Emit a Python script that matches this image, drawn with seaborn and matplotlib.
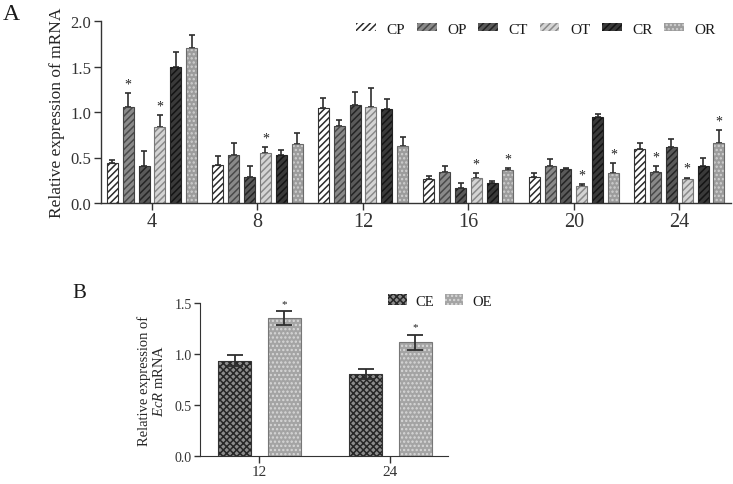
import matplotlib
matplotlib.use("Agg")
import matplotlib.pyplot as plt
from matplotlib.patches import Rectangle
import numpy as np
import pandas as pd
import seaborn as sns

# ---------------- data: panel A ----------------
times = ["4", "8", "12", "16", "20", "24"]
groups = ["CP", "OP", "CT", "OT", "CR", "OR"]
cp = [0.44, 0.42, 1.04, 0.26, 0.29, 0.59]
op = [1.05, 0.53, 0.85, 0.34, 0.41, 0.34]
ct = [0.41, 0.29, 1.08, 0.16, 0.37, 0.61]
ot = [0.84, 0.55, 1.05, 0.27, 0.19, 0.26]
cr = [1.49, 0.53, 1.03, 0.22, 0.94, 0.41]
orr = [1.70, 0.65, 0.63, 0.36, 0.33, 0.66]
cp_err = [0.03, 0.10, 0.11, 0.04, 0.04, 0.07]
op_err = [0.16, 0.13, 0.06, 0.07, 0.07, 0.07]
ct_err = [0.16, 0.12, 0.14, 0.06, 0.01, 0.09]
ot_err = [0.13, 0.06, 0.21, 0.06, 0.02, 0.02]
cr_err = [0.17, 0.05, 0.11, 0.02, 0.04, 0.09]
or_err = [0.15, 0.12, 0.10, 0.02, 0.11, 0.14]
# significance flags (1 = "*")
cp_sig = [0, 0, 0, 0, 0, 0]
op_sig = [1, 0, 0, 0, 0, 1]
ct_sig = [0, 0, 0, 0, 0, 0]
ot_sig = [1, 1, 0, 1, 1, 1]
cr_sig = [0, 0, 0, 0, 0, 0]
or_sig = [0, 0, 0, 1, 1, 1]

# ---------------- data: panel B ----------------
b_times = ["12", "24"]
b_groups = ["CE", "OE"]
ce = [0.935, 0.805]
oe = [1.35, 1.115]
ce_err = [0.055, 0.045]
oe_err = [0.07, 0.075]
ce_sig = [0, 0]
oe_sig = [1, 1]

vals_A = [cp, op, ct, ot, cr, orr]
errs_A = [cp_err, op_err, ct_err, ot_err, cr_err, or_err]
sigs_A = [cp_sig, op_sig, ct_sig, ot_sig, cr_sig, or_sig]
vals_B = [ce, oe]
errs_B = [ce_err, oe_err]
sigs_B = [ce_sig, oe_sig]

dfA = pd.DataFrame([(t, g, v) for g, vs in zip(groups, vals_A) for t, v in zip(times, vs)],
                   columns=["time", "group", "value"])
dfB = pd.DataFrame([(t, g, v) for g, vs in zip(b_groups, vals_B) for t, v in zip(b_times, vs)],
                   columns=["time", "group", "value"])

# styles
fill_A = {"CP": "#ffffff", "OP": "#8a8a8a", "CT": "#5a5a5a", "OT": "#d4d4d4", "CR": "#3a3a3a", "OR": "#9c9c9c"}
hatch_col_A = {"CP": "#2a2a2a", "OP": "#4a4a4a", "CT": "#242424", "OT": "#8a8a8a", "CR": "#141414", "OR": "#d0d0d0"}
hatch_A = {"CP": "/////", "OP": "/////", "CT": "/////", "OT": "/////", "CR": "/////", "OR": "...."}
outline_A = {"CP": "#333333", "OP": "#444444", "CT": "#333333", "OT": "#777777", "CR": "#222222", "OR": "#6a6a6a"}
fill_B = {"CE": "#8c8c8c", "OE": "#a4a4a4"}
hatch_col_B = {"CE": "#262626", "OE": "#d8d8d8"}
hatch_B = {"CE": "xxxxx", "OE": "...."}
outline_B = {"CE": "#333333", "OE": "#777777"}

sns.set_style("ticks")
plt.rcParams["font.family"] = ["Liberation Serif", "DejaVu Serif"]
plt.rcParams["mathtext.fontset"] = "custom"
plt.rcParams["mathtext.rm"] = "Liberation Serif"
plt.rcParams["mathtext.it"] = "Liberation Serif:italic"
plt.rcParams["hatch.linewidth"] = 1.1
plt.rcParams["axes.edgecolor"] = "#333333"
plt.rcParams["xtick.color"] = "#333333"
plt.rcParams["ytick.color"] = "#333333"
plt.rcParams["text.color"] = "#1a1a1a"

fig = plt.figure(figsize=(7.33, 4.85), dpi=100)
W, H = 733, 485
axA = fig.add_axes([101 / W, 1 - 204 / H, (731 - 101) / W, (204 - 22) / H])
axB = fig.add_axes([200 / W, 1 - 457.3 / H, (448 - 200) / W, (457.3 - 304) / H])


def style_bars(ax, grp_names, fills, hcols, hatches, outlines, errs, sigs, two_sided,
               capsize, elw, star_size, star_off):
    handles = []
    for g, cont, err, sig in zip(grp_names, ax.containers, errs, sigs):
        xs, tops = [], []
        for p in cont.patches:
            p.set_facecolor(fills[g])
            p.set_edgecolor(hcols[g])
            p.set_hatch(hatches[g])
            p.set_linewidth(0)
            p.set_zorder(2)
            ax.add_patch(Rectangle(p.get_xy(), p.get_width(), p.get_height(), fill=False,
                                   edgecolor=outlines[g], linewidth=0.8, zorder=2.5))
            xs.append(p.get_x() + p.get_width() / 2)
            tops.append(p.get_height())
        xs = np.array(xs)
        tops = np.array(tops)
        err = np.array(err)
        lower = err if two_sided else np.zeros_like(err)
        ax.errorbar(xs, tops, yerr=[lower, err], fmt="none", ecolor="#2e2e2e",
                    elinewidth=elw, capsize=capsize, capthick=elw,
                    zorder=3 if two_sided else 1.5)
        for x, t, e, s in zip(xs, tops, err, sig):
            if s:
                ax.annotate("*", (x, t + e), xytext=(0, star_off), textcoords="offset points",
                            ha="center", va="baseline", fontsize=star_size, color="#222222")
        handles.append(Rectangle((0, 0), 1, 1, facecolor=fills[g], edgecolor=hcols[g],
                                 hatch=hatches[g], linewidth=0))
    return handles


# ---------------- panel A ----------------
sns.barplot(data=dfA, x="time", y="value", hue="group", order=times, hue_order=groups,
            palette=fill_A, width=0.9, gap=0.3, errorbar=None, legend=False, ax=axA)
hA = style_bars(axA, groups, fill_A, hatch_col_A, hatch_A, outline_A, errs_A, sigs_A,
                False, 2.2, 1.2, 10, 4)
axA.set_xlim(-0.484, 5.49)
axA.set_ylim(0, 2.0)
axA.set_yticks([0, 0.5, 1.0, 1.5, 2.0])
axA.set_yticklabels(["0.0", "0.5", "1.0", "1.5", "2.0"])
axA.set_xlabel("")
axA.set_ylabel("Relative expression of mRNA", fontsize=12.5, labelpad=4)
axA.tick_params(axis="x", labelsize=14.5, length=5, width=1, pad=1.5)
axA.tick_params(axis="y", labelsize=12, length=5, width=1, pad=2)
for s in ["top", "right"]:
    axA.spines[s].set_visible(False)
for s in ["left", "bottom"]:
    axA.spines[s].set_linewidth(1)
axA.legend(hA, groups, loc="center", bbox_to_anchor=(536 / W, 1 - 30 / H),
           bbox_transform=fig.transFigure, ncol=6, frameon=False, fontsize=11,
           handlelength=1.3, handleheight=0.45, handletextpad=0.7, columnspacing=0.75,
           borderpad=0, borderaxespad=0)

# ---------------- panel B ----------------
sns.barplot(data=dfB, x="time", y="value", hue="group", order=b_times, hue_order=b_groups,
            palette=fill_B, width=0.756, gap=0.33, errorbar=None, legend=False, ax=axB)
hB = style_bars(axB, b_groups, fill_B, hatch_col_B, hatch_B, outline_B, errs_B, sigs_B,
                True, 5.5, 1.3, 8, 4)
axB.set_xlim(-0.453, 1.44)
axB.set_ylim(0, 1.5)
axB.set_yticks([0, 0.5, 1.0, 1.5])
axB.set_yticklabels(["0.0", "0.5", "1.0", "1.5"])
axB.set_xlabel("")
axB.set_ylabel("Relative expression of\n$\\mathit{EcR}$ mRNA", fontsize=10.5, labelpad=6,
               linespacing=1.1)
axB.tick_params(axis="x", labelsize=11, length=5, width=1, pad=1.5)
axB.tick_params(axis="y", labelsize=10, length=4, width=1, pad=2)
for s in ["top", "right"]:
    axB.spines[s].set_visible(False)
axB.legend(hB, b_groups, loc="center", bbox_to_anchor=(440 / W, 1 - 302 / H),
           bbox_transform=fig.transFigure, ncol=2, frameon=False, fontsize=10.5,
           handlelength=1.25, handleheight=0.7, handletextpad=0.6, columnspacing=0.75,
           borderpad=0, borderaxespad=0)

fig.text(3 / W, 1 - 15 / H, "A", fontsize=17, va="center", ha="left")
fig.text(72 / W, 1 - 294 / H, "B", fontsize=15, va="center", ha="left")

fig.savefig("out.png", dpi=100)
